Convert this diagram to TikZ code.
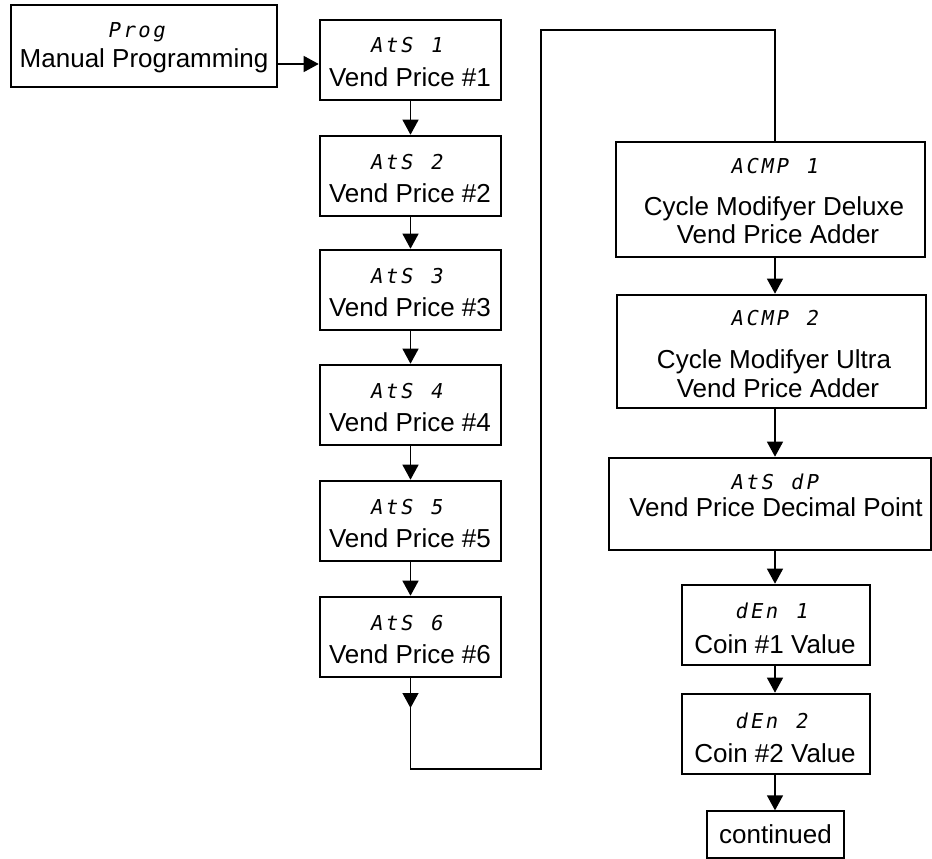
\documentclass[tikz,border=0pt]{standalone}
\usepackage{fontspec}
\setmainfont{Liberation Sans}
\newfontfamily\segfont[FakeSlant=0.18]{DejaVu Sans Mono}
\usetikzlibrary{arrows.meta}

% display codes: every character sits in a fixed-width cell, like a digit of an LED display
\newcommand\segword[1]{\segstep#1\relax}
\def\segstep#1{\ifx\relax#1\else\makebox[15pt][c]{#1}\expandafter\segstep\fi}

\begin{document}
\begin{tikzpicture}[x=1pt,y=-1pt,
  box/.style={draw, line width=2.6pt, rectangle, inner sep=0pt},
  wire/.style={line width=1.3pt},
  flow/.style={wire, -{Triangle[width=16pt,length=15pt]}},
  seg/.style={anchor=base, inner sep=0pt, font=\segfont\fontsize{20.5}{20.5}\selectfont},
  lbl/.style={anchor=base, inner sep=0pt, font=\fontsize{26}{30}\selectfont}]
\useasboundingbox (0,0) rectangle (932,859);

% entry box
\node[box, minimum width=266pt, minimum height=82pt] (prog) at (144,46) {};
\node[seg] (progcode) at (136,38) {\segword{Prog}};
\node[lbl] (progname) at (144,68) {Manual Programming};

% vend price column
\foreach \i/\t in {1/20,2/136,3/250,4/365,5/481,6/597}{
  \node[box, minimum width=181pt, minimum height=80pt] (ats\i) at (410.5,\t+40) {};
  \node[seg] (atscode\i) at (406,\t+33) {\segword{AtS~\i}};
  \node[lbl] (atsname\i) at (410,\t+66) {Vend Price \#\i};
}

% right column
\node[box, minimum width=309pt, minimum height=115pt] (acmp1) at (770.5,199.5) {};
\node[seg] (acmpcode1) at (774,173) {\segword{ACMP~1}};
\node[lbl] (acmpname1a) at (774,215) {Cycle Modifyer Deluxe};
\node[lbl] (acmpname1b) at (778,243) {Vend Price Adder};

\node[box, minimum width=309pt, minimum height=113pt] (acmp2) at (771.5,351.5) {};
\node[seg] (acmpcode2) at (774,325) {\segword{ACMP~2}};
\node[lbl] (acmpname2a) at (774,368) {Cycle Modifyer Ultra};
\node[lbl] (acmpname2b) at (778,397) {Vend Price Adder};

\node[box, minimum width=322pt, minimum height=92pt] (atsdp) at (770,504) {};
\node[seg] (dpcode) at (774,489) {\segword{AtS~dP}};
\node[lbl] (dpname) at (776,516) {Vend Price Decimal Point};

\node[box, minimum width=188pt, minimum height=80pt] (den1) at (776,625) {};
\node[seg] (dencode1) at (771,618) {\segword{dEn~1}};
\node[lbl] (denname1) at (775,653) {Coin \#1 Value};

\node[box, minimum width=188pt, minimum height=80pt] (den2) at (776,734) {};
\node[seg] (dencode2) at (771,728) {\segword{dEn~2}};
\node[lbl] (denname2) at (775,762) {Coin \#2 Value};

\node[draw, line width=1.3pt, minimum width=137pt, minimum height=47pt, inner sep=0pt,
  font=\fontsize{26}{30}\selectfont] (cont) at (775.5,834.5) {continued};

% connectors
\coordinate (rx) at (775,0);
\coordinate (ats6tip) at (410.5,708);
\coordinate (loopbot) at (541,769);
\coordinate (looptop) at (541,30);

\draw[flow] ([yshift=-18pt]prog.east) -- ([yshift=-18pt]prog.east -| ats1.west);
\foreach \a/\b in {1/2,2/3,3/4,4/5,5/6}
  \draw[flow] (ats\a.south) -- (ats\b.north);
\draw[flow] (ats6.south) -- (ats6tip);
\draw[wire] (ats6.south) |- (loopbot) -- (looptop) -| (acmp1.north -| rx);
\draw[flow] (acmp1.south -| rx) -- (acmp2.north -| rx);
\draw[flow] (acmp2.south -| rx) -- (atsdp.north -| rx);
\draw[flow] (atsdp.south -| rx) -- (den1.north -| rx);
\draw[flow] (den1.south -| rx) -- (den2.north -| rx);
\draw[flow] (den2.south -| rx) -- (cont.north -| rx);
\end{tikzpicture}
\end{document}
